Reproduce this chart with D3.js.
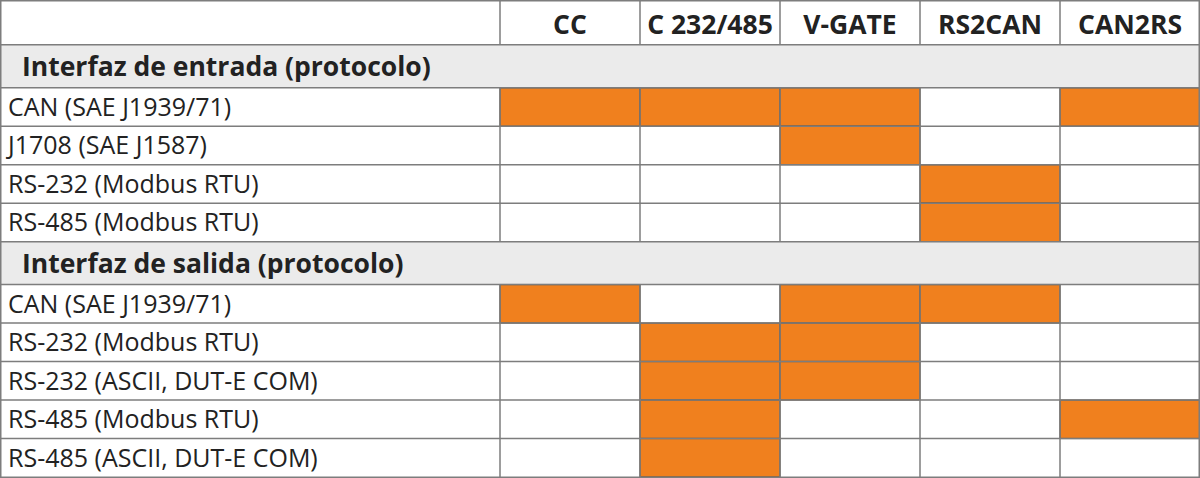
<!DOCTYPE html>
<html><head><meta charset="utf-8">
<script src="https://cdn.jsdelivr.net/npm/d3@7"></script>
<style>body{margin:0;background:#fff}svg{display:block}text{font-family:"Open Sans",sans-serif;fill:#222}</style>
</head><body><svg id="c" width="1200" height="478"></svg>
<script>
const products = ["CC","C 232/485","V-GATE","RS2CAN","CAN2RS"];
const sections = ["Interfaz de entrada (protocolo)","Interfaz de salida (protocolo)"];
const inputRows = ["CAN (SAE J1939/71)","J1708 (SAE J1587)","RS-232 (Modbus RTU)","RS-485 (Modbus RTU)"];
const inputValues = [[1,1,1,0,1],[0,0,1,0,0],[0,0,0,1,0],[0,0,0,1,0]];
const outputRows = ["CAN (SAE J1939/71)","RS-232 (Modbus RTU)","RS-232 (ASCII, DUT-E COM)","RS-485 (Modbus RTU)","RS-485 (ASCII, DUT-E COM)"];
const outputValues = [[1,0,1,1,0],[0,1,1,0,0],[0,1,1,0,0],[0,1,0,0,1],[0,1,0,0,0]];

const svg = d3.select("#c");
const x = d3.scaleBand().domain(products).range([500,1200]);
const rows = [{type:"head",h:44}];
[[sections[0],inputRows,inputValues],[sections[1],outputRows,outputValues]].forEach(([s,r,v])=>{
  rows.push({type:"sec",label:s,h:43});
  r.forEach((l,i)=>rows.push({type:"row",label:l,vals:v[i],h:38.6}));
});
let acc=0; rows.forEach(r=>{r.y=acc; acc+=r.h;});
const y = d3.scaleLinear().domain([0,acc]).range([1,477]);
const Y = r=>y(r.y), H = r=>y(r.y+r.h)-y(r.y);
const line="#7d7d7d";
rows.forEach(r=>{
  if(r.type==="sec"){
    svg.append("rect").attr("x",0).attr("y",Y(r)).attr("width",1200).attr("height",H(r)).attr("fill","#ebebeb");
    svg.append("text").attr("x",22).attr("y",Y(r)+H(r)/2).attr("dy","0.36em").attr("font-size",26.5).attr("font-weight","bold").text(r.label);
  } else if(r.type==="row"){
    svg.append("text").attr("x",8).attr("y",Y(r)+H(r)/2).attr("dy","0.36em").attr("font-size",25).text(r.label);
    svg.selectAll(null).data(products.map((p,i)=>({p,v:r.vals[i]})).filter(d=>d.v)).enter().append("rect")
      .attr("x",d=>x(d.p)).attr("y",Y(r)).attr("width",x.bandwidth()).attr("height",H(r))
      .attr("fill","#f0801e").attr("stroke","#5e4a38").attr("stroke-width",1.2);
  } else {
    svg.selectAll(null).data(products).enter().append("text").attr("x",d=>x(d)+x.bandwidth()/2).attr("y",Y(r)+H(r)/2+2).attr("dy","0.36em")
      .attr("text-anchor","middle").attr("font-size",26.5).attr("font-weight","bold").text(d=>d);
  }
});
rows.forEach(r=>{ if(r.y>0) svg.append("line").attr("x1",0).attr("x2",1200).attr("y1",Y(r)).attr("y2",Y(r)).attr("stroke",line).attr("stroke-width",1.5);});
rows.forEach(r=>{ if(r.type!=="sec") products.forEach(p=>svg.append("line").attr("x1",x(p)).attr("x2",x(p)).attr("y1",Y(r)).attr("y2",Y(r)+H(r)).attr("stroke",line).attr("stroke-width",1.5)); });
svg.append("rect").attr("x",0.75).attr("y",0.75).attr("width",1198.5).attr("height",476.5).attr("fill","none").attr("stroke",line).attr("stroke-width",1.5);
</script></body></html>
